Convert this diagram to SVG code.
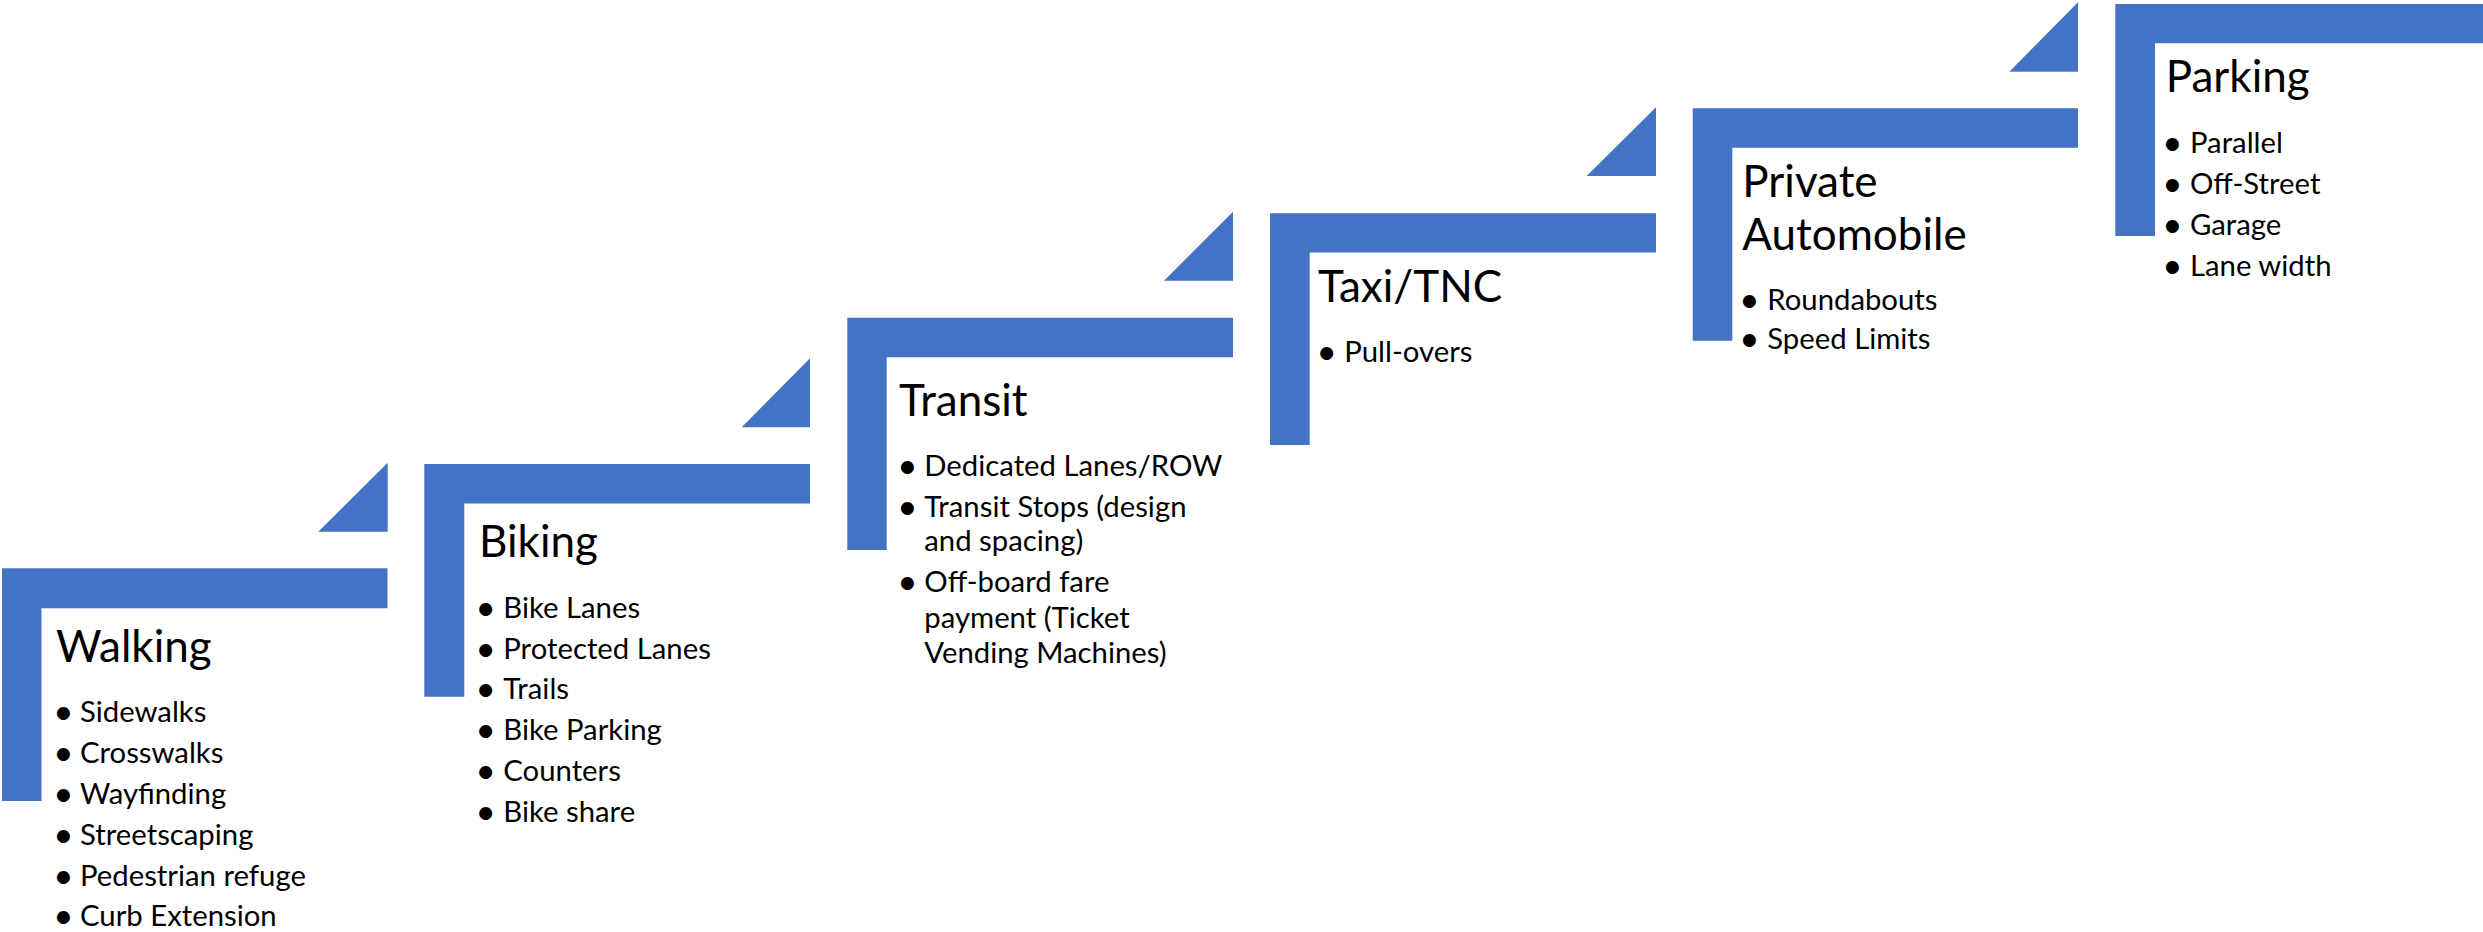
<svg xmlns="http://www.w3.org/2000/svg" width="2483" height="932" viewBox="0 0 2483 932">
<style>
.bar{fill:#4472C4}
.tri{fill:#4472C4}
.t{font-family:Lato,"Open Sans",sans-serif;font-size:44px;fill:#000}
.b{font-family:Lato,"Open Sans",sans-serif;font-size:29.3px;fill:#000}
.d{font-family:Lato,"Open Sans",sans-serif;font-size:35px;fill:#000;text-anchor:middle}
</style>
<rect width="2483" height="932" fill="#fff"/>
<g id="connectors">
<polygon class="tri" points="318.3,531.7 387.7,531.7 387.7,462.7"/>
<polygon class="tri" points="741.7,427.3 810,427.3 810,358.3"/>
<polygon class="tri" points="1164,280.7 1233,280.7 1233,211.7"/>
<polygon class="tri" points="1586.7,176 1656,176 1656,107.3"/>
<polygon class="tri" points="2009.3,71.7 2078,71.7 2078,2.3"/>
</g>
<g id="walking">
<path class="bar" d="M2,568.3H387.5V608.3H41.5V801H2Z"/>
<text class="t" x="56" y="661.7">Walking</text>
<g class="b">
<text class="d" x="63.3" y="723.7">•</text><text x="80" y="721.7">Sidewalks</text>
<text class="d" x="63.3" y="764.7">•</text><text x="80" y="762.7">Crosswalks</text>
<text class="d" x="63.3" y="805.5">•</text><text x="80" y="803.5">Wayfinding</text>
<text class="d" x="63.3" y="846.5">•</text><text x="80" y="844.5">Streetscaping</text>
<text class="d" x="63.3" y="887.5">•</text><text x="80" y="885.5">Pedestrian refuge</text>
<text class="d" x="63.3" y="927.5">•</text><text x="80" y="926">Curb Extension</text>
</g>
</g>
<g id="biking">
<path class="bar" d="M424.3,464H810V503.5H464.3V696.7H424.3Z"/>
<text class="t" x="479" y="557.3">Biking</text>
<g class="b">
<text class="d" x="485.7" y="620.3">•</text><text x="503.3" y="618.3">Bike Lanes</text>
<text class="d" x="485.7" y="660.8">•</text><text x="503.3" y="658.8">Protected Lanes</text>
<text class="d" x="485.7" y="701.3">•</text><text x="503.3" y="699.3">Trails</text>
<text class="d" x="485.7" y="742.3">•</text><text x="503.3" y="740.3">Bike Parking</text>
<text class="d" x="485.7" y="783.3">•</text><text x="503.3" y="781.3">Counters</text>
<text class="d" x="485.7" y="823.7">•</text><text x="503.3" y="821.7">Bike share</text>
</g>
</g>
<g id="transit">
<path class="bar" d="M847.3,317.7H1233V357.3H886.7V550H847.3Z"/>
<text class="t" x="899" y="415.7">Transit</text>
<g class="b">
<text class="d" x="907.3" y="477.7">•</text><text x="924.3" y="475.7">Dedicated Lanes/ROW</text>
<text class="d" x="907.3" y="518.7">•</text><text x="924.3" y="516.7">Transit Stops (design</text>
<text x="924.3" y="551">and spacing)</text>
<text class="d" x="907.3" y="594.3">•</text><text x="924.3" y="592.3">Off-board fare</text>
<text x="924.3" y="627.5">payment (Ticket</text>
<text x="924.3" y="663.3">Vending Machines)</text>
</g>
</g>
<g id="taxi">
<path class="bar" d="M1270,213.3H1656V252.5H1309.7V445H1270Z"/>
<text class="t" x="1318" y="301.7">Taxi/TNC</text>
<g class="b">
<text class="d" x="1326.7" y="363.7">•</text><text x="1344.3" y="361.7">Pull-overs</text>
</g>
</g>
<g id="private">
<path class="bar" d="M1692.7,108.3H2078V147.7H1732.3V340.7H1692.7Z"/>
<text class="t" x="1742.3" y="196.7">Private</text>
<text class="t" x="1742.3" y="250">Automobile</text>
<g class="b">
<text class="d" x="1749.3" y="312">•</text><text x="1767.3" y="310">Roundabouts</text>
<text class="d" x="1749.3" y="351.3">•</text><text x="1767.3" y="349.3">Speed Limits</text>
</g>
</g>
<g id="parking">
<path class="bar" d="M2115.3,4H2483V43.3H2155V236H2115.3Z"/>
<text class="t" x="2165.7" y="92.3">Parking</text>
<g class="b">
<text class="d" x="2172.3" y="155.3">•</text><text x="2190" y="153.3">Parallel</text>
<text class="d" x="2172.3" y="196">•</text><text x="2190" y="194">Off-Street</text>
<text class="d" x="2172.3" y="237">•</text><text x="2190" y="235">Garage</text>
<text class="d" x="2172.3" y="278">•</text><text x="2190" y="276">Lane width</text>
</g>
</g>
</svg>
